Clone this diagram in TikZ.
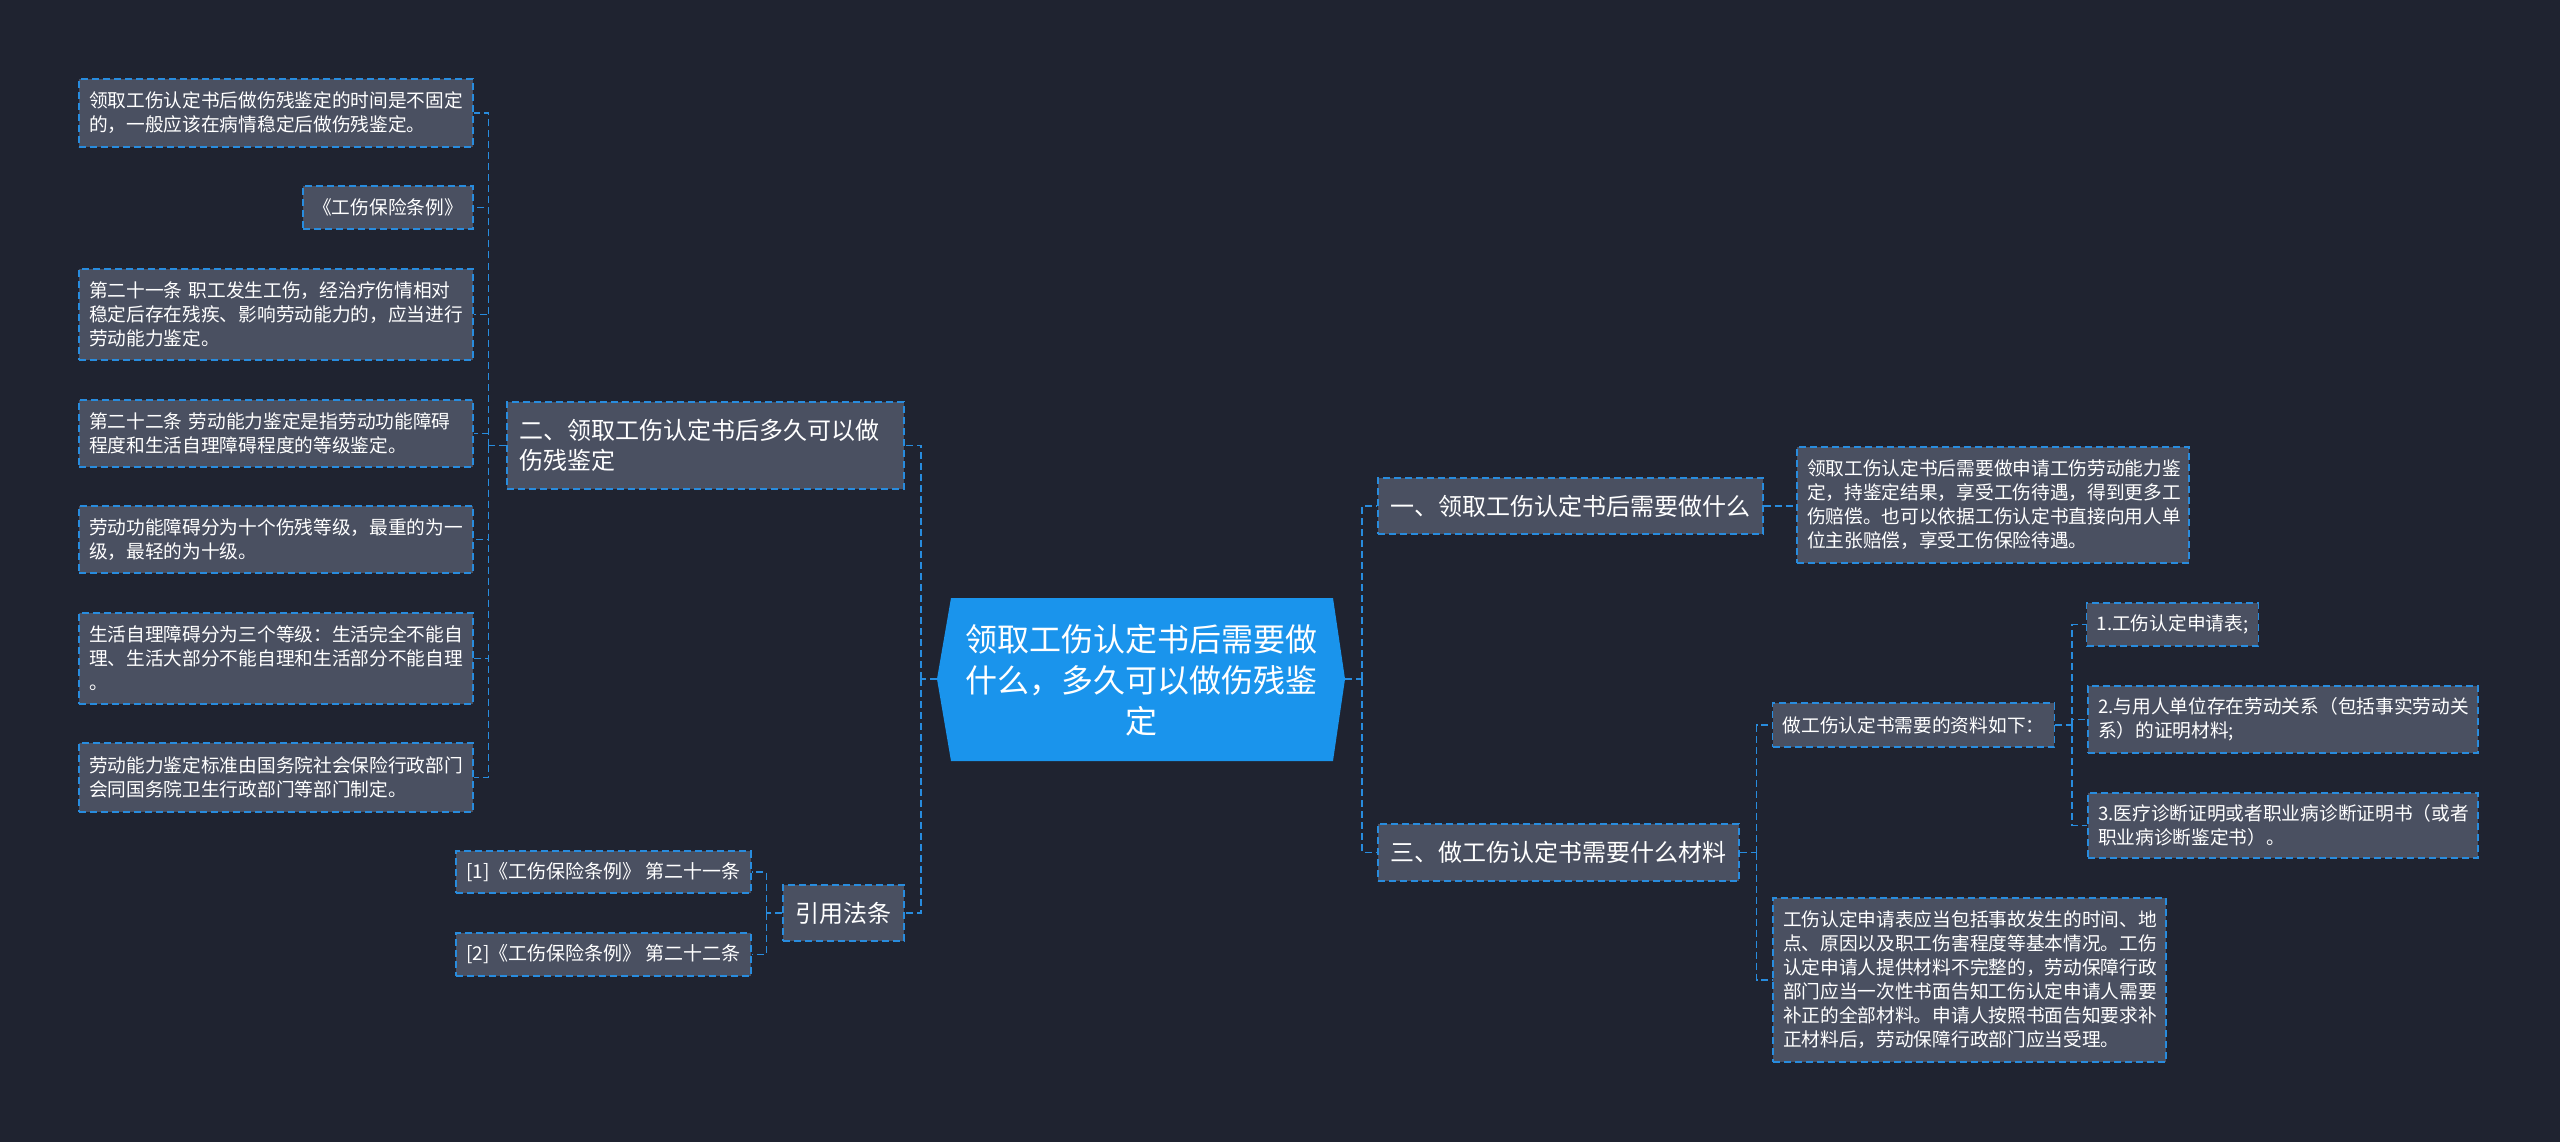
\documentclass[tikz,border=0pt]{standalone}
\usepackage{fontspec}
\setmainfont{Noto Sans CJK SC}
\definecolor{bg}{RGB}{31,35,48}
\definecolor{boxfill}{RGB}{74,80,97}
\definecolor{lineblue}{RGB}{40,140,222}
\definecolor{cenblue}{RGB}{26,148,236}
\begin{document}
\begin{tikzpicture}[x=1pt,y=-1pt,
  box/.style={draw=lineblue, line width=1.4pt, dash pattern=on 7pt off 4pt, fill=boxfill, text=white, inner xsep=10pt, inner ysep=0pt, align=left, font=\fontsize{18.7}{24}\selectfont},
  wbox/.style={box, text width=374pt},
  mid/.style={box, inner xsep=12pt, font=\fontsize{24}{30}\selectfont},
  conn/.style={draw=lineblue, line width=1.5pt, dash pattern=on 7pt off 4pt}]
\fill[bg] (0,0) rectangle (2560,1142);
% central node
\fill[cenblue] (937,679) -- (951,598) -- (1333,598) -- (1345,679) -- (1333,761) -- (951,761) -- cycle;
\node[text=white, align=center, font=\fontsize{32}{41}\selectfont, inner sep=0pt] (cen) at (1141,680) {领取工伤认定书后需要做\\什么，多久可以做伤残鉴\\定};
\coordinate (cenL) at (937,679);
\coordinate (cenR) at (1345,679);
% left column
\node[wbox, minimum height=68pt] (a) at (276,113) {领取工伤认定书后做伤残鉴定的时间是不固定\\的，一般应该在病情稳定后做伤残鉴定。};
\node[box, minimum width=170pt, minimum height=43pt] (b) at (388,207.5) {《工伤保险条例》};
\node[wbox, minimum height=91pt] (c) at (276,314.5) {第二十一条 职工发生工伤，经治疗伤情相对\\稳定后存在残疾、影响劳动能力的，应当进行\\劳动能力鉴定。};
\node[wbox, minimum height=67pt] (d) at (276,433.5) {第二十二条 劳动能力鉴定是指劳动功能障碍\\程度和生活自理障碍程度的等级鉴定。};
\node[wbox, minimum height=67pt] (e) at (276,539.5) {劳动功能障碍分为十个伤残等级，最重的为一\\级，最轻的为十级。};
\node[wbox, minimum height=91pt] (f) at (276,658.5) {生活自理障碍分为三个等级：生活完全不能自\\理、生活大部分不能自理和生活部分不能自理\\。};
\node[wbox, minimum height=69pt] (g) at (276,777.5) {劳动能力鉴定标准由国务院社会保险行政部门\\会同国务院卫生行政部门等部门制定。};
\node[mid, text width=373pt, minimum height=87pt] (two) at (705.5,445.5) {二、领取工伤认定书后多久可以做\\伤残鉴定};
\node[mid, minimum width=121pt, minimum height=56pt] (cite) at (843.5,913) {引用法条};
\node[box, minimum width=291pt, minimum height=42pt, font=\fontsize{19}{24}\selectfont] (c1) at (603.5,872) {[1]《工伤保险条例》 第二十一条};
\node[box, minimum width=291pt, minimum height=43pt, font=\fontsize{19}{24}\selectfont] (c2) at (603.5,954.5) {[2]《工伤保险条例》 第二十二条};
% right side
\node[mid, minimum width=385pt, minimum height=56pt] (one) at (1570.5,506) {一、领取工伤认定书后需要做什么};
\node[box, text width=372pt, minimum height=116pt] (r1) at (1993,505) {领取工伤认定书后需要做申请工伤劳动能力鉴\\定，持鉴定结果，享受工伤待遇，得到更多工\\伤赔偿。也可以依据工伤认定书直接向用人单\\位主张赔偿，享受工伤保险待遇。};
\node[mid, minimum width=361pt, minimum height=57pt] (three) at (1558.5,852.5) {三、做工伤认定书需要什么材料};
\node[box, minimum width=281pt, minimum height=44pt] (mat) at (1913.5,725) {做工伤认定书需要的资料如下：};
\node[box, minimum width=169pt, minimum height=43pt] (i1) at (2172.5,624.5) {1.工伤认定申请表;};
\node[box, text width=370pt, minimum height=67pt] (i2) at (2283,719.5) {2.与用人单位存在劳动关系（包括事实劳动关\\系）的证明材料;};
\node[box, text width=370pt, minimum height=65pt] (i3) at (2283,825.5) {3.医疗诊断证明或者职业病诊断证明书（或者\\职业病诊断鉴定书）。};
\node[box, text width=373pt, minimum height=164pt] (big) at (1969.5,980) {工伤认定申请表应当包括事故发生的时间、地\\点、原因以及职工伤害程度等基本情况。工伤\\认定申请人提供材料不完整的，劳动保障行政\\部门应当一次性书面告知工伤认定申请人需要\\补正的全部材料。申请人按照书面告知要求补\\正材料后，劳动保障行政部门应当受理。};
% connectors
\draw[conn] (cenL) -- ++(-16,0) coordinate (jL);
\draw[conn] (jL) |- (two.east);
\draw[conn] (jL) |- (cite.east);
\draw[conn] (two.west) -- ++(-18,0) coordinate (j2);
\foreach \n in {a,b,c,d,e,f,g} \draw[conn] (j2) |- (\n.east);
\draw[conn] (cite.west) -- ++(-16,0) coordinate (jc);
\draw[conn] (jc) |- (c1.east);
\draw[conn] (jc) |- (c2.east);
\draw[conn] (cenR) -- ++(17,0) coordinate (jR);
\draw[conn] (jR) |- (one.west);
\draw[conn] (jR) |- (three.west);
\draw[conn] (one.east) -- (r1.west |- one.east);
\draw[conn] (three.east) -- ++(17,0) coordinate (j3);
\draw[conn] (j3) |- (mat.west);
\draw[conn] (j3) |- (big.west);
\draw[conn] (mat.east) -- ++(17,0) coordinate (jm);
\foreach \n in {i1,i2,i3} \draw[conn] (jm) |- (\n.west);
\end{tikzpicture}
\end{document}
